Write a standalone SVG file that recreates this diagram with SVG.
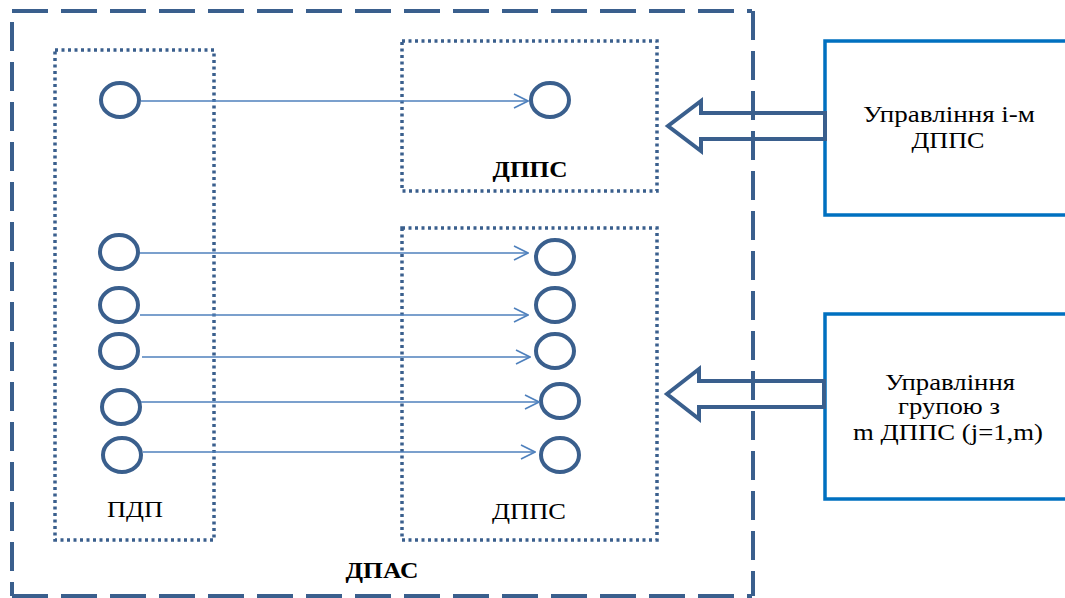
<svg xmlns="http://www.w3.org/2000/svg" width="1065" height="598" viewBox="0 0 1065 598">
<style>
.outerH{fill:none;stroke:#3A5F8D;stroke-width:4;stroke-dasharray:36 13}
.outerV{fill:none;stroke:#3A5F8D;stroke-width:4;stroke-dasharray:29 11}
.dotted{fill:none;stroke:#3A5F8D;stroke-width:3.5;stroke-dasharray:3 3.5}
.node{fill:none;stroke:#3A5F8D;stroke-width:4}
.conn{fill:none;stroke:#4F81BD;stroke-width:1.6}
.block{fill:none;stroke:#3A5F8D;stroke-width:4;stroke-linejoin:miter}
.ctl{fill:#fff;stroke:#0070C0;stroke-width:3.5}
text{font-family:'Liberation Serif','DejaVu Serif',serif;font-size:23px;fill:#000;text-anchor:middle}
.b{font-weight:bold}
</style>
<defs>
<marker id="arr" viewBox="0 0 16 16" refX="15" refY="8" markerWidth="16" markerHeight="16" markerUnits="userSpaceOnUse" orient="auto">
<path d="M1,1 L15,8 L1,15" fill="none" stroke="#4F81BD" stroke-width="1.6"/>
</marker>
</defs>
<g id="dpas">
<line class="outerH" x1="12" y1="11" x2="752" y2="11"/>
<line class="outerH" x1="12" y1="596" x2="752" y2="596"/>
<line class="outerV" x1="12" y1="22" x2="12" y2="596"/>
<line class="outerV" x1="753" y1="11" x2="753" y2="596"/>
<text class="b" x="382" y="578" textLength="73" lengthAdjust="spacingAndGlyphs">ДПАС</text>
</g>
<g id="pdp">
<rect class="dotted" x="55" y="50" width="159" height="490"/>
<text x="135" y="517" textLength="56" lengthAdjust="spacingAndGlyphs">ПДП</text>
<ellipse class="node" cx="120" cy="100" rx="19" ry="17"/>
<ellipse class="node" cx="119" cy="252" rx="19" ry="17"/>
<ellipse class="node" cx="119" cy="305" rx="19" ry="17"/>
<ellipse class="node" cx="119" cy="351" rx="19" ry="17"/>
<ellipse class="node" cx="121" cy="407" rx="19" ry="17"/>
<ellipse class="node" cx="122" cy="455" rx="19" ry="17"/>
</g>
<g id="dpps-top">
<rect class="dotted" x="402" y="41" width="255" height="150"/>
<ellipse class="node" cx="550" cy="100" rx="19" ry="17"/>
<text class="b" x="530" y="177" textLength="75" lengthAdjust="spacingAndGlyphs">ДППС</text>
</g>
<g id="dpps-group">
<rect class="dotted" x="402" y="228" width="255" height="312"/>
<ellipse class="node" cx="555" cy="257" rx="19" ry="17"/>
<ellipse class="node" cx="555" cy="305" rx="19" ry="17"/>
<ellipse class="node" cx="555" cy="351" rx="19" ry="17"/>
<ellipse class="node" cx="560" cy="401" rx="19" ry="17"/>
<ellipse class="node" cx="560" cy="455" rx="19" ry="17"/>
<text x="529" y="519" textLength="74" lengthAdjust="spacingAndGlyphs">ДППС</text>
</g>
<g id="ctl-i">
<rect class="ctl" x="825" y="41" width="260" height="174"/>
<text x="949" y="122" textLength="172" lengthAdjust="spacingAndGlyphs">Управління і-м</text>
<text x="948" y="148" textLength="73" lengthAdjust="spacingAndGlyphs">ДППС</text>
</g>
<g id="ctl-group">
<rect class="ctl" x="825" y="314" width="260" height="185"/>
<text x="950" y="390" textLength="130" lengthAdjust="spacingAndGlyphs">Управління</text>
<text x="949" y="414" textLength="102" lengthAdjust="spacingAndGlyphs">групою з</text>
<text x="948" y="440" textLength="190" lengthAdjust="spacingAndGlyphs">m ДППС (j=1,m)</text>
</g>
<g id="connectors">
<line class="conn" x1="141" y1="101" x2="528" y2="101" marker-end="url(#arr)"/>
<line class="conn" x1="140" y1="253" x2="528" y2="253" marker-end="url(#arr)"/>
<line class="conn" x1="140" y1="315" x2="528" y2="315" marker-end="url(#arr)"/>
<line class="conn" x1="142" y1="357" x2="530" y2="357" marker-end="url(#arr)"/>
<line class="conn" x1="141" y1="402" x2="539" y2="402" marker-end="url(#arr)"/>
<line class="conn" x1="143" y1="452" x2="535" y2="452" marker-end="url(#arr)"/>
<path class="block" d="M825 113 L701 113 L701 101 L668 126 L701 151 L701 139 L825 139 Z"/>
<path class="block" d="M824 381 L699 381 L699 369 L667 394 L699 419 L699 407 L824 407 Z"/>
</g>
</svg>
